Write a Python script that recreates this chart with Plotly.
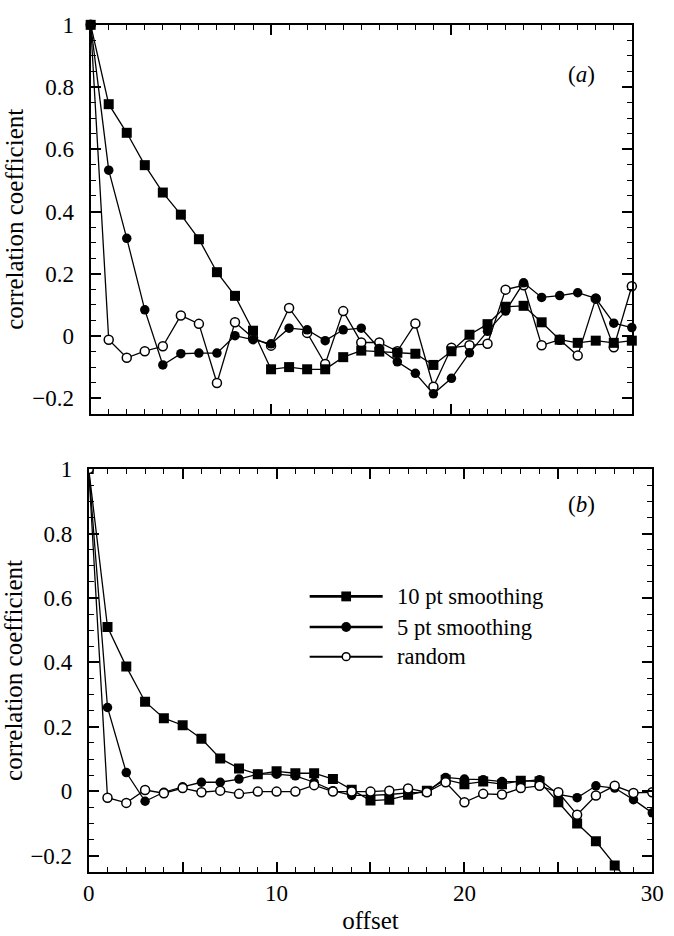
import plotly.graph_objects as go

offsets = list(range(0, 31))

# Panel (a)
a_10pt = [1.0, 0.745, 0.653, 0.549, 0.461, 0.39, 0.311, 0.205, 0.129, 0.017, -0.107,
          -0.10, -0.107, -0.107, -0.068, -0.047, -0.05, -0.054, -0.057, -0.093, -0.049,
          0.004, 0.038, 0.094, 0.097, 0.044, -0.012, -0.022, -0.015, -0.022, -0.015]
a_5pt = [1.0, 0.533, 0.314, 0.084, -0.093, -0.057, -0.055, -0.055, 0.001, -0.012, -0.025,
         0.025, 0.02, -0.015, 0.02, 0.025, -0.04, -0.083, -0.12, -0.186, -0.136,
         -0.054, 0.015, 0.08, 0.171, 0.124, 0.13, 0.139, 0.121, 0.041, 0.027]
a_random = [1.0, -0.012, -0.07, -0.049, -0.033, 0.066, 0.039, -0.151, 0.044, -0.006, -0.031,
            0.09, 0.01, -0.09, 0.08, -0.021, -0.021, -0.049, 0.04, -0.163, -0.038,
            -0.03, -0.025, 0.149, 0.163, -0.03, -0.012, -0.063, 0.12, -0.036, 0.16]

# Panel (b)
b_10pt = [1.0, 0.51, 0.387, 0.278, 0.227, 0.205, 0.163, 0.102, 0.071, 0.053, 0.062,
          0.056, 0.056, 0.038, 0.005, -0.029, -0.026, -0.011, 0.002, 0.036, 0.022,
          0.03, 0.022, 0.033, 0.03, -0.034, -0.10, -0.155, -0.23, -0.30, -0.37]
b_5pt = [1.0, 0.26, 0.058, -0.031, -0.003, 0.014, 0.028, 0.028, 0.038, 0.053, 0.053,
         0.048, 0.028, 0.002, -0.013, -0.013, -0.01, -0.005, -0.003, 0.043, 0.038,
         0.036, 0.03, 0.03, 0.036, -0.01, -0.02, 0.017, 0.01, -0.026, -0.067]
b_random = [1.0, -0.02, -0.036, 0.004, -0.006, 0.01, -0.003, 0.002, -0.008, -0.001, -0.001,
            -0.001, 0.019, -0.001, -0.001, -0.001, 0.002, 0.009, -0.003, 0.028, -0.034,
            -0.008, -0.01, 0.01, 0.017, -0.003, -0.073, -0.013, 0.017, -0.005, -0.003]

legend_names = ["10 pt smoothing", "5 pt smoothing", "random"]
y_tickvals = [-0.2, 0, 0.2, 0.4, 0.6, 0.8, 1.0]
y_ticktext = ["\u22120.2", "0", "0.2", "0.4", "0.6", "0.8", "1"]
x_tickvals = [0, 5, 10, 15, 20, 25, 30]
x_ticktext = ["0", "", "10", "", "20", "", "30"]

FONT = "Liberation Serif, Times New Roman, serif"
W, H = 674, 936
TICK_SIZE = 23
TITLE_SIZE = 25
LEG_SIZE = 22.5

sq = dict(symbol="square", size=10, color="black")
fc = dict(symbol="circle", size=9.5, color="black")
oc = dict(symbol="circle", size=9, color="white", line=dict(color="black", width=1.5))
ln = dict(color="black", width=1.3)

fig = go.Figure()

# panel a traces (random under, squares on top)
fig.add_trace(go.Scatter(x=offsets, y=a_random, mode="lines+markers", marker=oc, line=ln,
                         xaxis="x", yaxis="y", showlegend=False, cliponaxis=False))
fig.add_trace(go.Scatter(x=offsets, y=a_5pt, mode="lines+markers", marker=fc, line=ln,
                         xaxis="x", yaxis="y", showlegend=False, cliponaxis=False))
fig.add_trace(go.Scatter(x=offsets, y=a_10pt, mode="lines+markers", marker=sq, line=ln,
                         xaxis="x", yaxis="y", showlegend=False, cliponaxis=False))

# panel b traces
fig.add_trace(go.Scatter(x=offsets, y=b_10pt, mode="lines+markers", marker=sq, line=ln,
                         xaxis="x2", yaxis="y2", showlegend=False, cliponaxis=True))
fig.add_trace(go.Scatter(x=offsets, y=b_5pt, mode="lines+markers", marker=fc, line=ln,
                         xaxis="x2", yaxis="y2", showlegend=False, cliponaxis=True))
fig.add_trace(go.Scatter(x=offsets, y=b_random, mode="lines+markers", marker=oc, line=ln,
                         xaxis="x2", yaxis="y2", showlegend=False, cliponaxis=True))

axis_common = dict(
    showline=True, linecolor="black", linewidth=2, mirror="allticks",
    ticks="inside", ticklen=10, tickwidth=1.5, tickcolor="black",
    showgrid=False, zeroline=False, ticklabeloverflow="allow",
    tickfont=dict(family=FONT, size=TICK_SIZE, color="black"),
)

def xaxis(domain, labels, anchor):
    d = dict(axis_common)
    d.update(domain=domain, range=[0, 30], tickmode="array", tickvals=x_tickvals,
             ticktext=x_ticktext, showticklabels=labels, anchor=anchor,
             minor=dict(dtick=1, ticks="inside", ticklen=5, tickwidth=1.2, tickcolor="black"))
    return d

def yaxis(domain, anchor):
    d = dict(axis_common)
    d.update(domain=domain, range=[-0.25, 1.0], tickmode="array", tickvals=y_tickvals,
             ticktext=y_ticktext, anchor=anchor, ticklabelstandoff=10,
             minor=dict(dtick=0.05, tick0=0, ticks="inside", ticklen=5, tickwidth=1.2, tickcolor="black"),
             title=dict(text="correlation coefficient",
                        font=dict(family=FONT, size=TITLE_SIZE, color="black"), standoff=2))
    return d

xa = xaxis([87 / W, 643 / W], False, "y")
xb = xaxis([85 / W, 664 / W], True, "y2")
xb["title"] = dict(text="offset", font=dict(family=FONT, size=TITLE_SIZE, color="black"), standoff=6)
ya = yaxis([1 - 407 / H, 1 - 13 / H], "x")
yb = yaxis([1 - 871 / H, 1 - 463 / H], "x2")

# hand-drawn legend (layout glyphs in paper coordinates)
leg_rows = [592, 623, 653]
leg_line_w = [2.7, 2.7, 2.0]
shapes = []
annotations = []
for i, (name, row, lw) in enumerate(zip(legend_names, leg_rows, leg_line_w)):
    yy = 1 - row / H
    shapes.append(dict(type="line", xref="paper", yref="paper", x0=312 / W, x1=387 / W,
                       y0=yy, y1=yy, line=dict(color="black", width=lw)))
    cx = 349.5
    if i == 0:
        r = 5
        shapes.append(dict(type="rect", xref="paper", yref="paper",
                           x0=(cx - r) / W, x1=(cx + r) / W, y0=yy - r / H, y1=yy + r / H,
                           fillcolor="black", line=dict(color="black", width=0)))
    elif i == 1:
        r = 5
        shapes.append(dict(type="circle", xref="paper", yref="paper",
                           x0=(cx - r) / W, x1=(cx + r) / W, y0=yy - r / H, y1=yy + r / H,
                           fillcolor="black", line=dict(color="black", width=0)))
    else:
        r = 4
        shapes.append(dict(type="circle", xref="paper", yref="paper",
                           x0=(cx - r) / W, x1=(cx + r) / W, y0=yy - r / H, y1=yy + r / H,
                           fillcolor="white", line=dict(color="black", width=1.5)))
    annotations.append(dict(text=name, x=400 / W, y=yy, xref="paper", yref="paper",
                            xanchor="left", yanchor="middle", showarrow=False,
                            font=dict(family=FONT, size=LEG_SIZE, color="black")))

annotations += [
    dict(text="(<i>a</i>)", x=607 / W, y=1 - 49 / H, xref="paper", yref="paper",
         showarrow=False, font=dict(family=FONT, size=TICK_SIZE, color="black")),
    dict(text="(<i>b</i>)", x=607 / W, y=1 - 499 / H, xref="paper", yref="paper",
         showarrow=False, font=dict(family=FONT, size=TICK_SIZE, color="black")),
]

fig.update_layout(
    width=W, height=H,
    margin=dict(l=0, r=0, t=0, b=0),
    paper_bgcolor="white", plot_bgcolor="white",
    font=dict(family=FONT, size=TICK_SIZE, color="black"),
    xaxis=xa, yaxis=ya, xaxis2=xb, yaxis2=yb,
    showlegend=False,
    shapes=shapes,
    annotations=annotations,
)

fig.write_html("out.html")
